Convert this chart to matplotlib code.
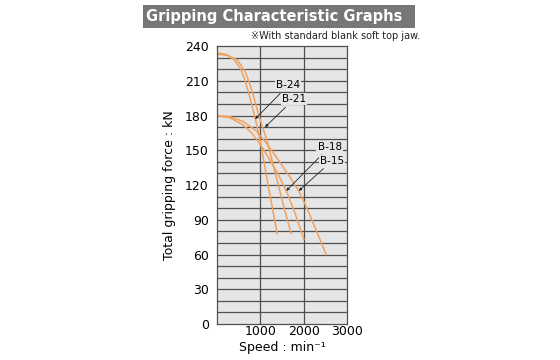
import matplotlib.pyplot as plt
from matplotlib.patches import Rectangle

# curves (speed min-1, force kN)
b24_x = [0, 200, 400, 550, 650, 770, 880, 1000, 1100, 1200, 1300, 1390]
b24_y = [234, 233, 228, 220, 210, 194, 178, 158, 137, 116, 96, 78]

b21_x = [0, 250, 470, 650, 750, 850, 950, 1070, 1150, 1300, 1450, 1580, 1714]
b21_y = [233, 232, 228, 218, 208, 196, 182, 168, 159, 137, 115, 96, 78]

b18_x = [0, 300, 600, 800, 1000, 1200, 1400, 1600, 1800, 2007]
b18_y = [180, 178, 172, 165, 155, 143, 130, 115, 96, 73]

b15_x = [0, 300, 600, 900, 1100, 1300, 1500, 1700, 1900, 2100, 2300, 2520]
b15_y = [180, 179, 175, 167, 158, 148, 137, 126, 114, 98, 80, 60]

labels = ['B-24', 'B-21', 'B-18', 'B-15']
# label text position and leader end point
label_xy = [(1640, 206), (1770, 194), (2600, 153), (2660, 141)]
point_xy = [(880, 177), (1110, 170), (1600, 115), (1890, 115)]

yticks = [0, 30, 60, 90, 120, 150, 180, 210, 240]
xticks = [1000, 2000, 3000]

orange = '#efa260'

fig = plt.figure(figsize=(5.6, 3.6), dpi=100)
ax = fig.add_axes([0.3875, 0.10, 0.232, 0.772])
ax.set_facecolor('#e6e6e6')

for y in range(10, 240, 10):
    ax.axhline(y, color='#505050', lw=0.9, zorder=1)
for x in [1000, 2000]:
    ax.axvline(x, color='#505050', lw=0.9, zorder=1)

for xs, ys in [(b24_x, b24_y), (b21_x, b21_y), (b18_x, b18_y), (b15_x, b15_y)]:
    ax.plot(xs, ys, color=orange, lw=1.1, zorder=2)

for lab, txy, pxy in zip(labels, label_xy, point_xy):
    ax.annotate(lab, xy=pxy, xytext=txy, fontsize=7.5, ha='center', va='center',
                bbox=dict(boxstyle='square,pad=0.1', fc='#e6e6e6', ec='none'),
                arrowprops=dict(arrowstyle='-|>', color='#222222', lw=0.6,
                                mutation_scale=4, shrinkA=2, shrinkB=0),
                zorder=4)

ax.set_xlim(0, 3000)
ax.set_ylim(0, 240)
ax.set_yticks(yticks)
ax.set_yticklabels([str(v) for v in yticks], fontsize=9)
ax.set_xticks(xticks)
ax.set_xticklabels([str(v) for v in xticks], fontsize=9)
ax.tick_params(axis='y', length=0, pad=6)
ax.tick_params(axis='x', length=0, pad=1)
for s in ax.spines.values():
    s.set_color('#505050')
    s.set_linewidth(0.9)

ax.set_ylabel('Total gripping force : kN', fontsize=9, labelpad=6)
ax.set_xlabel('Speed : min⁻¹', fontsize=9, labelpad=2)

# title band
fig.patches.append(Rectangle((143 / 560, 1 - 28 / 360), 272 / 560, 23 / 360,
                             transform=fig.transFigure, fc='#777777', ec='none'))
fig.text(146 / 560, 1 - 16.5 / 360, 'Gripping Characteristic Graphs', color='white',
         fontsize=10.5, fontweight='bold', va='center', ha='left')
fig.text(420 / 560, 1 - 36 / 360, '※With standard blank soft top jaw.', fontsize=7,
         ha='right', va='center', color='#222222', family=['DejaVu Sans', 'Noto Sans CJK JP'])

fig.savefig('out.png', dpi=100)
